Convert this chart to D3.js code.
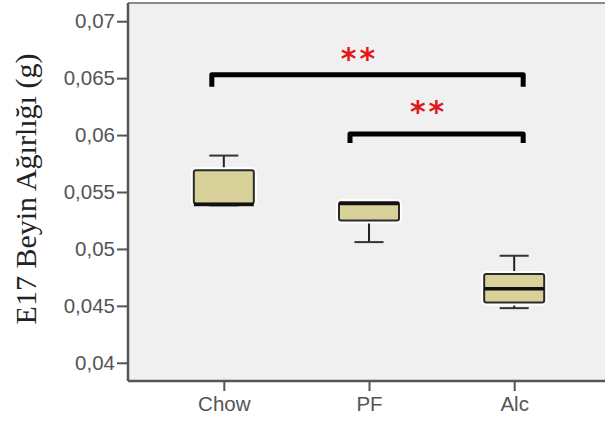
<!DOCTYPE html>
<html>
<head>
<meta charset="utf-8">
<script src="https://cdn.jsdelivr.net/npm/d3@7"></script>
<style>
  body { margin: 0; background: #fff; }
  svg { display: block; }
</style>
</head>
<body>
<svg id="chart" width="605" height="426"></svg>
<script>
// data
var groups = ['Chow', 'PF', 'Alc'];
var mins    = [0.0538, 0.0506, 0.0448];
var q1s     = [0.0540, 0.0525, 0.0453];
var medians = [0.0539, 0.0540, 0.0465];
var q3s     = [0.0569, 0.0541, 0.0478];
var maxs    = [0.0582, 0.0542, 0.0494];

var yTicks = [0.04, 0.045, 0.05, 0.055, 0.06, 0.065, 0.07];
var yLabel = 'E17 Beyin Ağırlığı (g)';

// significance brackets: from group, to group, height, label
var sigFrom = ['Chow', 'PF'];
var sigTo = ['Alc', 'Alc'];
var sigLevel = [0.0653, 0.0601];
var sigText = ['**', '**'];

var plotLeft = 128, plotTop = 3, plotBottom = 381, plotRight = 605;

var svg = d3.select('#chart');

var x = d3.scalePoint()
  .domain(groups)
  .range([plotLeft, 610])
  .padding(0.66);

var y = d3.scaleLinear()
  .domain([0.0384, 0.0716])
  .range([plotBottom, plotTop]);

var fmt = d3.formatLocale({decimal: ',', thousands: '.', grouping: [3], currency: ['', '']}).format('~g');

// plot background
svg.append('rect')
  .attr('x', plotLeft).attr('y', plotTop)
  .attr('width', plotRight - plotLeft).attr('height', plotBottom - plotTop)
  .attr('fill', '#f0f0f0');

// top frame line
svg.append('line')
  .attr('x1', plotLeft).attr('x2', plotRight)
  .attr('y1', plotTop).attr('y2', plotTop)
  .attr('stroke', '#8a8a8a').attr('stroke-width', 2);

// axes
var yAxis = svg.append('g')
  .attr('transform', 'translate(' + plotLeft + ',0)')
  .call(d3.axisLeft(y).tickValues(yTicks).tickFormat(fmt).tickSize(11).tickPadding(2));

var xAxis = svg.append('g')
  .attr('transform', 'translate(0,' + plotBottom + ')')
  .call(d3.axisBottom(x).tickSize(10).tickPadding(5));

[yAxis, xAxis].forEach(function(g) {
  g.select('.domain').attr('stroke', '#555').attr('stroke-width', 2.5);
  g.selectAll('.tick line').attr('stroke', '#555').attr('stroke-width', 2);
  g.selectAll('.tick text')
    .attr('fill', '#555')
    .style('font-family', 'Liberation Sans, Arial, sans-serif')
    .style('font-size', '20.5px');
});
// domain paths end exactly at the plot box
yAxis.select('.domain').attr('d', 'M0,' + plotTop + 'V' + plotBottom);
xAxis.select('.domain').attr('d', 'M' + plotLeft + ',0H' + plotRight);

// y label
svg.append('text')
  .attr('transform', 'translate(36,' + ((plotTop + plotBottom) / 2 - 3) + ') rotate(-90)')
  .attr('text-anchor', 'middle')
  .attr('fill', '#222')
  .style('font-family', 'Liberation Serif, Times New Roman, serif')
  .style('font-size', '30px')
  .text(yLabel);

// boxes
var boxW = 60, capW = 29;
var boxes = svg.append('g').selectAll('g')
  .data(groups)
  .enter().append('g');

boxes.each(function(d, i) {
  var g = d3.select(this);
  var cx = x(d);
  // whiskers
  g.append('line')
    .attr('x1', cx).attr('x2', cx)
    .attr('y1', y(maxs[i])).attr('y2', y(q3s[i]))
    .attr('stroke', '#222').attr('stroke-width', 2);
  g.append('line')
    .attr('x1', cx).attr('x2', cx)
    .attr('y1', y(q1s[i])).attr('y2', y(mins[i]))
    .attr('stroke', '#222').attr('stroke-width', 2);
  g.append('line')
    .attr('x1', cx - capW / 2).attr('x2', cx + capW / 2)
    .attr('y1', y(maxs[i])).attr('y2', y(maxs[i]))
    .attr('stroke', '#333').attr('stroke-width', 2);
  g.append('line')
    .attr('x1', cx - capW / 2).attr('x2', cx + capW / 2)
    .attr('y1', y(mins[i])).attr('y2', y(mins[i]))
    .attr('stroke', '#333').attr('stroke-width', 2);
  // white halo + box
  g.append('rect')
    .attr('x', cx - boxW / 2).attr('y', y(q3s[i]))
    .attr('width', boxW).attr('height', y(q1s[i]) - y(q3s[i]))
    .attr('rx', 2)
    .attr('fill', 'none').attr('stroke', '#fff').attr('stroke-width', 6);
  g.append('rect')
    .attr('x', cx - boxW / 2).attr('y', y(q3s[i]))
    .attr('width', boxW).attr('height', y(q1s[i]) - y(q3s[i]))
    .attr('rx', 2)
    .attr('fill', '#d8d199').attr('stroke', '#2a2a2a').attr('stroke-width', 2);
  // median
  g.append('line')
    .attr('x1', cx - boxW / 2).attr('x2', cx + boxW / 2)
    .attr('y1', y(medians[i])).attr('y2', y(medians[i]))
    .attr('stroke', '#111').attr('stroke-width', 3.5);
});

// significance brackets
sigFrom.forEach(function(f, i) {
  var x1 = x(f) - (i === 0 ? 12 : 19);
  var x2 = x(sigTo[i]) + 9;
  var yy = y(sigLevel[i]);
  var drop = i === 0 ? 12 : 9;
  svg.append('path')
    .attr('d', 'M' + x1 + ',' + (yy + drop) + 'V' + yy + 'H' + x2 + 'V' + (yy + drop))
    .attr('fill', 'none')
    .attr('stroke', '#000')
    .attr('stroke-width', 5)
    .attr('stroke-linejoin', 'round');
  svg.append('text')
    .attr('x', (x1 + x2) / 2 - 8)
    .attr('y', yy - (i === 0 ? 6 : 12))
    .attr('text-anchor', 'middle')
    .attr('fill', '#e01818')
    .style('font-family', 'DejaVu Sans, sans-serif')
    .style('font-weight', 'bold')
    .style('font-size', '30px')
    .style('letter-spacing', '3px')
    .text(sigText[i]);
});
</script>
</body>
</html>
